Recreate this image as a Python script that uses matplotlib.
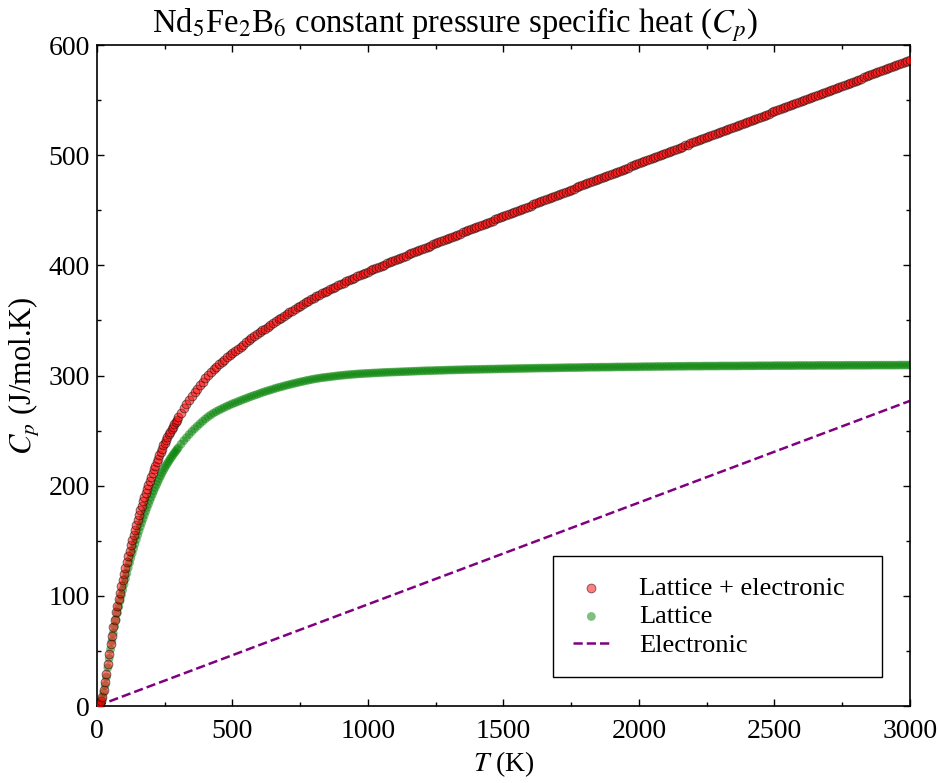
import numpy as np
import matplotlib
matplotlib.use("Agg")
import matplotlib.pyplot as plt
from matplotlib.ticker import MultipleLocator

plt.rcParams['font.family'] = ['Liberation Serif', 'DejaVu Serif']
plt.rcParams['mathtext.fontset'] = 'stix'

# temperature grids (K): 5 K up to 300 K, 10 K above
t_low = np.arange(0, 301, 5)
t_mid = np.arange(310, 1001, 10)
t_high = np.arange(1010, 3001, 10)

# lattice + electronic (J/mol.K)
cp_total_low = [
    0.0, 0.5, 1.8, 4.5, 8.5, 14.5, 21.5, 29.5, 38.5, 47.5,
    56.0, 64.0, 71.5, 78.5, 85.0, 91.2, 97.2, 103.0, 108.7, 114.3,
    119.8, 125.3, 130.6, 135.8, 140.9, 145.8, 150.6, 155.4, 160.0, 164.5,
    169.0, 173.3, 177.5, 181.7, 185.7, 189.6, 193.5, 197.3, 201.0, 204.6,
    208.1, 211.5, 214.9, 218.2, 221.5, 224.6, 227.7, 230.7, 233.6, 236.5,
    239.2, 241.8, 244.3, 246.7, 249.1, 251.4, 253.6, 255.8, 257.9, 260.0,
    262.1]
cp_total_mid = [
    266.3, 270.3, 274.1, 277.9, 281.5, 284.9, 288.2, 291.4, 294.5, 297.5,
    300.4, 303.1, 305.6, 307.9, 310.1, 312.3, 314.4, 316.5, 318.5, 320.5,
    322.4, 324.3, 326.2, 328.1, 330.0, 331.9, 333.7, 335.5, 337.3, 339.1,
    340.9, 342.6, 344.3, 346.0, 347.7, 349.4, 351.0, 352.6, 354.2, 355.8,
    357.4, 358.9, 360.4, 361.9, 363.4, 364.9, 366.4, 367.8, 369.2, 370.6,
    372.0, 373.3, 374.6, 375.8, 377.1, 378.3, 379.5, 380.7, 382.0, 383.2,
    384.3, 385.5, 386.6, 387.8, 388.9, 390.0, 391.1, 392.2, 393.3, 394.3]
cp_total_high = [
    395.4, 396.4, 397.5, 398.5, 399.6, 400.6, 401.7, 402.7, 403.7, 404.7,
    405.8, 406.8, 407.8, 408.8, 409.9, 410.9, 411.9, 412.9, 414.0, 415.0,
    416.0, 417.0, 418.0, 419.0, 420.0, 421.0, 422.0, 423.0, 424.0, 424.9,
    425.9, 426.9, 427.9, 428.9, 429.9, 430.9, 431.9, 432.9, 433.9, 434.8,
    435.8, 436.8, 437.8, 438.7, 439.7, 440.7, 441.7, 442.6, 443.6, 444.6,
    445.6, 446.5, 447.5, 448.5, 449.5, 450.4, 451.4, 452.3, 453.3, 454.3,
    455.3, 456.2, 457.2, 458.1, 459.1, 460.1, 461.1, 462.0, 463.0, 463.9,
    464.9, 465.8, 466.8, 467.8, 468.8, 469.7, 470.7, 471.6, 472.6, 473.5,
    474.5, 475.5, 476.5, 477.4, 478.4, 479.3, 480.3, 481.2, 482.2, 483.1,
    484.1, 485.0, 486.0, 486.9, 487.9, 488.8, 489.8, 490.7, 491.7, 492.6,
    493.6, 494.5, 495.5, 496.4, 497.4, 498.3, 499.3, 500.2, 501.2, 502.1,
    503.1, 504.0, 505.0, 505.9, 506.9, 507.8, 508.8, 509.7, 510.7, 511.6,
    512.5, 513.4, 514.4, 515.3, 516.3, 517.2, 518.2, 519.1, 520.0, 520.9,
    521.9, 522.8, 523.8, 524.7, 525.7, 526.6, 527.5, 528.4, 529.4, 530.3,
    531.3, 532.2, 533.2, 534.1, 535.1, 536.0, 536.9, 537.8, 538.8, 539.7,
    540.7, 541.6, 542.6, 543.5, 544.4, 545.3, 546.3, 547.2, 548.2, 549.1,
    550.1, 551.0, 551.9, 552.8, 553.8, 554.7, 555.6, 556.5, 557.5, 558.4,
    559.4, 560.3, 561.2, 562.1, 563.1, 564.0, 565.0, 565.9, 566.8, 567.7,
    568.7, 569.6, 570.6, 571.5, 572.4, 573.3, 574.3, 575.2, 576.2, 577.1,
    578.0, 578.9, 579.9, 580.8, 581.8, 582.7, 583.6, 584.5, 585.5, 586.4]

# lattice only (J/mol.K)
cp_lattice_low = [
    0.0, 0.1, 0.9, 3.1, 6.7, 12.2, 18.7, 26.3, 34.8, 43.3,
    51.4, 58.9, 66.0, 72.5, 78.5, 84.3, 89.8, 95.2, 100.4, 105.5,
    110.6, 115.6, 120.4, 125.2, 129.8, 134.3, 138.6, 142.9, 147.1, 151.1,
    155.1, 159.0, 162.8, 166.4, 170.0, 173.5, 176.9, 180.2, 183.4, 186.6,
    189.6, 192.6, 195.5, 198.4, 201.1, 203.8, 206.5, 209.0, 211.5, 213.9,
    216.2, 218.3, 220.3, 222.2, 224.2, 226.0, 227.8, 229.5, 231.1, 232.8,
    234.4]
cp_lattice_mid = [
    237.7, 240.8, 243.6, 246.5, 249.2, 251.7, 254.0, 256.3, 258.5, 260.6,
    262.6, 264.3, 265.9, 267.3, 268.6, 269.8, 271.0, 272.2, 273.3, 274.4,
    275.3, 276.3, 277.3, 278.3, 279.2, 280.2, 281.1, 282.0, 282.8, 283.7,
    284.6, 285.4, 286.2, 286.9, 287.7, 288.5, 289.2, 289.8, 290.5, 291.2,
    291.8, 292.4, 293.0, 293.6, 294.2, 294.7, 295.3, 295.8, 296.3, 296.8,
    297.2, 297.6, 298.0, 298.3, 298.6, 298.9, 299.2, 299.5, 299.8, 300.1,
    300.3, 300.6, 300.8, 301.0, 301.2, 301.4, 301.6, 301.7, 301.9, 302.0]
cp_lattice_high = [
    302.1, 302.3, 302.4, 302.5, 302.7, 302.8, 302.9, 303.0, 303.1, 303.2,
    303.3, 303.4, 303.5, 303.6, 303.7, 303.8, 303.9, 304.0, 304.1, 304.2,
    304.3, 304.4, 304.4, 304.5, 304.6, 304.7, 304.7, 304.8, 304.9, 305.0,
    305.0, 305.1, 305.2, 305.2, 305.3, 305.4, 305.4, 305.5, 305.5, 305.6,
    305.6, 305.7, 305.7, 305.8, 305.8, 305.9, 305.9, 306.0, 306.0, 306.1,
    306.1, 306.2, 306.2, 306.3, 306.3, 306.4, 306.4, 306.5, 306.5, 306.6,
    306.6, 306.7, 306.7, 306.8, 306.8, 306.8, 306.8, 306.9, 306.9, 307.0,
    307.0, 307.1, 307.1, 307.2, 307.2, 307.2, 307.2, 307.3, 307.3, 307.4,
    307.4, 307.5, 307.5, 307.5, 307.5, 307.6, 307.6, 307.6, 307.6, 307.7,
    307.7, 307.8, 307.8, 307.8, 307.8, 307.9, 307.9, 307.9, 307.9, 308.0,
    308.0, 308.1, 308.1, 308.1, 308.1, 308.2, 308.2, 308.2, 308.2, 308.3,
    308.3, 308.3, 308.3, 308.4, 308.4, 308.4, 308.4, 308.5, 308.5, 308.5,
    308.5, 308.5, 308.5, 308.6, 308.6, 308.6, 308.6, 308.6, 308.6, 308.7,
    308.7, 308.7, 308.7, 308.7, 308.7, 308.7, 308.7, 308.8, 308.8, 308.8,
    308.8, 308.8, 308.8, 308.9, 308.9, 308.9, 308.9, 308.9, 308.9, 309.0,
    309.0, 309.0, 309.0, 309.0, 309.0, 309.0, 309.0, 309.1, 309.1, 309.1,
    309.1, 309.1, 309.1, 309.1, 309.1, 309.2, 309.2, 309.2, 309.2, 309.2,
    309.2, 309.2, 309.2, 309.2, 309.2, 309.3, 309.3, 309.3, 309.3, 309.3,
    309.3, 309.3, 309.3, 309.3, 309.3, 309.4, 309.4, 309.4, 309.4, 309.4,
    309.4, 309.4, 309.4, 309.4, 309.4, 309.5, 309.5, 309.5, 309.5, 309.5]

# electronic part is linear in T
t_elec = [0, 3000]
cp_elec = [0.0, 277.0]

T = np.concatenate([t_low, t_mid, t_high])
cp_total = np.array(cp_total_low + cp_total_mid + cp_total_high)
cp_lattice = np.array(cp_lattice_low + cp_lattice_mid + cp_lattice_high)

fig = plt.figure(figsize=(9.38, 7.83), dpi=100)
ax = fig.add_axes([0.1034, 0.0983, 0.8667, 0.8442])

ax.scatter(T, cp_lattice, s=40, color='green', alpha=0.5, edgecolors='none',
           label='Lattice', zorder=2)
ax.scatter(T, cp_total, s=40, color='red', alpha=0.5, edgecolors='k',
           linewidths=0.7, label='Lattice + electronic', zorder=3)
ax.plot(t_elec, cp_elec, '--', color='purple', lw=1.8, label='Electronic', zorder=1)

ax.set_xlim(0, 3000)
ax.set_ylim(0, 600)
ax.xaxis.set_major_locator(MultipleLocator(500))
ax.xaxis.set_minor_locator(MultipleLocator(250))
ax.yaxis.set_major_locator(MultipleLocator(100))
ax.yaxis.set_minor_locator(MultipleLocator(50))
ax.tick_params(which='both', direction='in', top=True, right=True, width=1)
ax.tick_params(which='major', length=5, labelsize=20)
ax.tick_params(which='minor', length=3)
ax.tick_params(axis='x', which='major', pad=9)
ax.tick_params(axis='y', which='major', pad=5)
for sp in ax.spines.values():
    sp.set_linewidth(1.2)

ax.set_xlabel('$T$ (K)', fontsize=20, labelpad=4)
ax.set_ylabel('$C_p$ (J/mol.K)', fontsize=22, labelpad=5)
ax.set_title('Nd$_5$Fe$_2$B$_6$ constant pressure specific heat ($C_p$)',
             fontsize=23.5, pad=9, x=0.44)

h, l = ax.get_legend_handles_labels()
order = [1, 0, 2]
leg = ax.legend([h[i] for i in order], [l[i] for i in order], loc='lower left',
                bbox_to_anchor=(0.561, 0.044, 0.405, 0.18), mode='expand',
                fontsize=19, fancybox=False, edgecolor='k', framealpha=1,
                borderpad=0.75, labelspacing=0.2, handletextpad=1.1,
                handlelength=1.4, borderaxespad=0)
leg.get_frame().set_linewidth(1.0)

fig.savefig('out.png', dpi=100)
